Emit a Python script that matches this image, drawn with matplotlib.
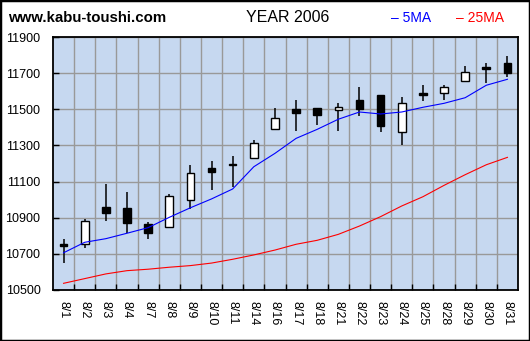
import matplotlib
matplotlib.use("Agg")
import matplotlib.pyplot as plt
from matplotlib.patches import Rectangle
import numpy as np

# datos (agosto 2006)
dates = ["8/1", "8/2", "8/3", "8/4", "8/7", "8/8", "8/9", "8/10", "8/11", "8/14",
         "8/16", "8/17", "8/18", "8/21", "8/22", "8/23", "8/24", "8/25", "8/28",
         "8/29", "8/30", "8/31"]
open_ = [10755, 10753, 10959, 10954, 10865, 10847, 10996, 11175, 11195, 11229,
         11389, 11502, 11507, 11494, 11551, 11577, 11373, 11590, 11589, 11655,
         11732, 11756]
close = [10745, 10882, 10928, 10872, 10817, 11018, 11146, 11155, 11190, 11312,
         11450, 11481, 11470, 11511, 11502, 11409, 11533, 11577, 11622, 11705,
         11725, 11703]
high = [10782, 10891, 11087, 11042, 10876, 11031, 11192, 11214, 11242, 11330,
        11505, 11551, 11507, 11533, 11623, 11577, 11568, 11634, 11634, 11740,
        11756, 11795]
low = [10651, 10734, 10883, 10817, 10784, 10847, 10950, 11053, 11072, 11225,
       11385, 11382, 11415, 11382, 11465, 11376, 11304, 11548, 11553, 11655,
       11647, 11681]
ma5 = [10706, 10764, 10784, 10814, 10845, 10902, 10955, 11004, 11059, 11182,
       11256, 11339, 11389, 11445, 11485, 11474, 11485, 11511, 11533, 11564,
       11633, 11666]
ma25 = [10537, 10563, 10589, 10607, 10615, 10626, 10635, 10649, 10670, 10694,
        10721, 10753, 10775, 10808, 10854, 10906, 10965, 11016, 11079, 11138,
        11193, 11234]

FONT = "Liberation Sans"
x = np.arange(len(dates))

fig = plt.figure(figsize=(5.30, 3.41), dpi=100)
fig.patch.set_facecolor("white")
ax = fig.add_axes([53 / 530, 1 - 290 / 341, 465 / 530, 253 / 341])
ax.set_facecolor("#C6D8F0")

# velas
o = np.array(open_, dtype=float)
c = np.array(close, dtype=float)
bottoms = np.minimum(o, c)
heights = np.maximum(np.abs(c - o), 3)
colors = ["white" if ci > oi else "black" for oi, ci in zip(o, c)]
ax.vlines(x, low, high, color="black", linewidth=1.1, zorder=3)
ax.bar(x, heights, bottom=bottoms, width=0.36, color=colors,
       edgecolor="black", linewidth=1.0, zorder=4)

# medias móviles
ax.plot(x, ma5, color="#0000FF", linewidth=0.8, zorder=5)
ax.plot(x, ma25, color="#FF0000", linewidth=0.8, zorder=5)

ax.set_xlim(-0.5, len(dates) - 0.5)
ax.set_ylim(10500, 11900)
ax.set_yticks(np.arange(10500, 11901, 200))
ax.set_yticklabels([str(v) for v in range(10500, 11901, 200)],
                   fontsize=9, family=FONT)
ax.set_xticks(x)
ax.set_xticklabels(dates, rotation=-90, fontsize=9, family=FONT)
ax.set_xticks(np.arange(0.5, len(dates) - 1, 1), minor=True)
ax.tick_params(axis="x", which="major", length=0, pad=8)
ax.tick_params(axis="x", which="minor", direction="in", length=4, width=1)
ax.tick_params(axis="y", direction="in", length=4, width=1, pad=9)
ax.grid(True, axis="y", which="major", color="#999999", linewidth=1.0)
ax.grid(True, axis="x", which="minor", color="#999999", linewidth=1.0)
ax.set_axisbelow(True)
for s in ax.spines.values():
    s.set_linewidth(1.3)

fig.text(8 / 530, 1 - 18 / 341, "www.kabu-toushi.com", fontsize=10.8,
         fontweight="bold", family=FONT, va="center", ha="left")
fig.text(288 / 530, 1 - 17 / 341, "YEAR 2006", fontsize=11.5,
         family=FONT, va="center", ha="center")
fig.text(391 / 530, 1 - 18 / 341, "\u2013 5MA", fontsize=10, color="#0000FF",
         family=FONT, va="center", ha="left")
fig.text(456 / 530, 1 - 18 / 341, "\u2013 25MA", fontsize=10, color="#FF0000",
         family=FONT, va="center", ha="left")

fig.add_artist(Rectangle((0, 0), 1, 1, transform=fig.transFigure, fill=False,
                         edgecolor="black", linewidth=2.5))

fig.savefig("out.png", dpi=100)
